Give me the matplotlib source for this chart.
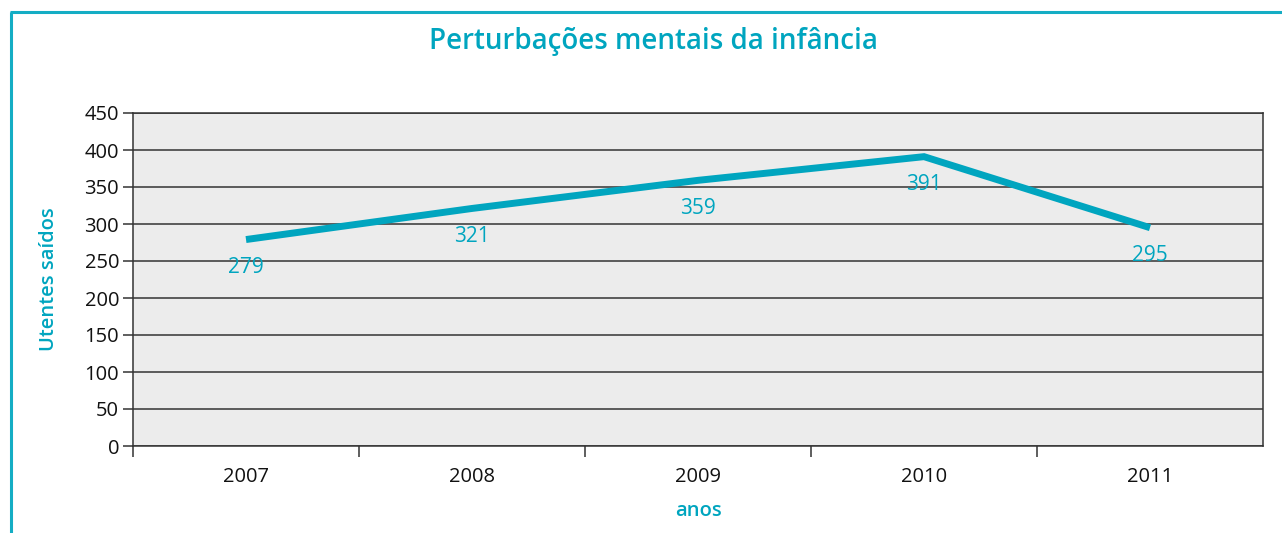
import matplotlib
matplotlib.use('Agg')
import matplotlib.pyplot as plt
from matplotlib.lines import Line2D
import numpy as np

# data
anos = ['2007', '2008', '2009', '2010', '2011']
utentes = [279, 321, 359, 391, 295]
y_ticks = [0, 50, 100, 150, 200, 250, 300, 350, 400, 450]

teal = '#00A5BF'
dark = '#333333'

plt.rcParams['font.family'] = ['Open Sans', 'DejaVu Sans']

fig = plt.figure(figsize=(12.82, 5.33), dpi=100)
ax = fig.add_axes([133 / 1282, 1 - 446 / 533, (1263 - 133) / 1282, (446 - 113) / 533])
ax.set_facecolor('#ECECEC')

x = np.arange(len(anos))
ax.plot(x, utentes, color=teal, lw=5, solid_capstyle='butt', solid_joinstyle='miter', zorder=3)

for xi, v in zip(x, utentes):
    ax.annotate(str(v), (xi, v), xytext=(0, -20), textcoords='offset points',
                ha='center', va='center', color=teal, fontsize=15, zorder=4)

ax.set_xlim(-0.5, len(anos) - 0.5)
ax.set_ylim(0, 450)
ax.set_yticks(y_ticks)
ax.yaxis.grid(True, color=dark, lw=1.1)
ax.set_axisbelow(True)

# category boundary ticks, labels on the centres
ax.set_xticks(np.arange(-0.5, len(anos) - 1, 1.0))
ax.set_xticklabels([])
ax.set_xticks(x, minor=True)
ax.set_xticklabels(anos, minor=True)
ax.tick_params(axis='x', which='major', length=8, width=1.1, color=dark, direction='out')
ax.tick_params(axis='x', which='minor', length=0, pad=15, labelsize=14.5, labelcolor='#111111')
ax.tick_params(axis='y', length=7, width=1.1, color=dark, labelsize=14.5, labelcolor='#111111', pad=3)

for s in ax.spines.values():
    s.set_color(dark)
    s.set_linewidth(1.1)

ax.set_ylabel('Utentes saídos', color=teal, fontsize=14.5, fontweight='semibold', labelpad=18)
ax.set_xlabel('anos', color=teal, fontsize=14.5, fontweight='semibold', labelpad=10)

fig.text(653 / 1282, 1 - 42 / 533, 'Perturbações mentais da infância', ha='center', va='center',
         color=teal, fontsize=20, fontweight='semibold')

# teal frame lines at the top and on the left
fig.add_artist(Line2D([10 / 1282, 1], [1 - 12 / 533, 1 - 12 / 533], color='#14ADC4', lw=2.2,
                      solid_capstyle='butt'))
fig.add_artist(Line2D([11 / 1282, 11 / 1282], [0, 1 - 12 / 533], color='#14ADC4', lw=2.2,
                      solid_capstyle='butt'))

fig.savefig('out.png', dpi=100)
